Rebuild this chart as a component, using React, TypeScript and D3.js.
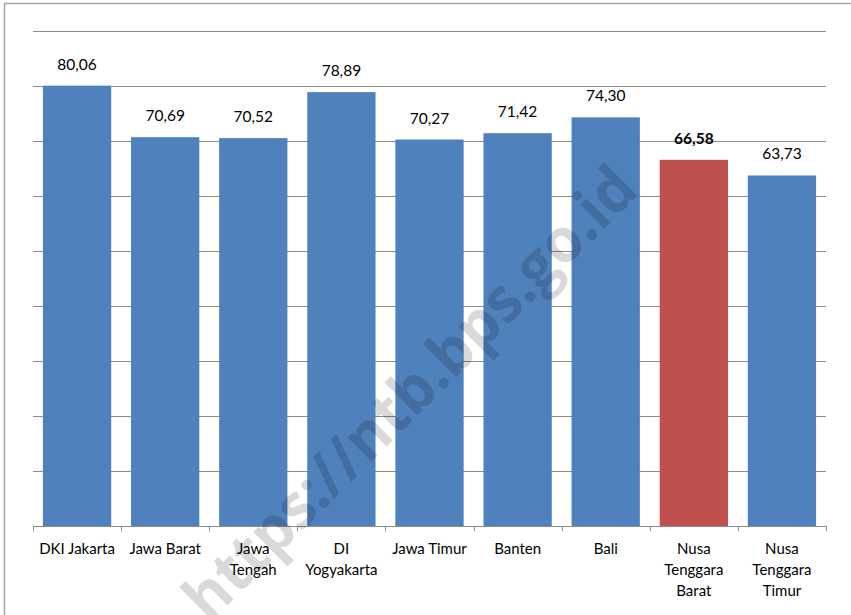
import React from "react";
import * as d3 from "d3";

const categories = [
  "DKI Jakarta",
  "Jawa Barat",
  "Jawa Tengah",
  "DI Yogyakarta",
  "Jawa Timur",
  "Banten",
  "Bali",
  "Nusa Tenggara Barat",
  "Nusa Tenggara Timur",
];
const categoryLabelLines = [
  ["DKI Jakarta"],
  ["Jawa Barat"],
  ["Jawa", "Tengah"],
  ["DI", "Yogyakarta"],
  ["Jawa Timur"],
  ["Banten"],
  ["Bali"],
  ["Nusa", "Tenggara", "Barat"],
  ["Nusa", "Tenggara", "Timur"],
];
const values = [80.06, 70.69, 70.52, 78.89, 70.27, 71.42, 74.3, 66.58, 63.73];
const highlighted = "Nusa Tenggara Barat";
const yTicks = [0, 10, 20, 30, 40, 50, 60, 70, 80, 90];
const watermark = "https://ntb.bps.go.id";

const W = 851;
const H = 615;
const plot = { left: 33, right: 826, top: 31, bottom: 526 };
const FONT = "Lato, 'Open Sans', sans-serif";

export default function App() {
  const x = d3
    .scaleBand<string>()
    .domain(categories)
    .range([plot.left, plot.right])
    .paddingInner(0.225)
    .paddingOuter(0.1125);
  const y = d3.scaleLinear().domain([0, 90]).range([plot.bottom, plot.top]);
  const step = x.step();
  const fmt = (v: number) => d3.format(".2f")(v).replace(".", ",");

  return (
    <svg
      width={W}
      height={H}
      style={{ position: "absolute", left: 0, top: 0, background: "#fff" }}
      fontFamily={FONT}
    >
      <rect x={4.5} y={3.5} width={1000} height={1000} fill="#fff" stroke="#a6a6a6" strokeWidth={1.5} />
      {yTicks
        .filter((t) => t > 0)
        .map((t) => (
          <line
            key={t}
            x1={plot.left}
            x2={plot.right}
            y1={Math.round(y(t)) + 0.5}
            y2={Math.round(y(t)) + 0.5}
            stroke="#8c8c8c"
            strokeWidth={1}
          />
        ))}
      {categories.map((c, i) => (
        <rect
          key={c}
          x={x(c)}
          y={y(values[i])}
          width={x.bandwidth()}
          height={y(0) - y(values[i])}
          fill={c === highlighted ? "#c0504d" : "#4f81bd"}
        />
      ))}
      <line x1={plot.left} x2={plot.right} y1={plot.bottom + 0.5} y2={plot.bottom + 0.5} stroke="#8c8c8c" strokeWidth={1} />
      {d3.range(categories.length + 1).map((i) => {
        const tx = Math.round(plot.left + i * step) + 0.5;
        return <line key={i} x1={tx} x2={tx} y1={plot.bottom} y2={plot.bottom + 5} stroke="#8c8c8c" />;
      })}
      {categories.map((c, i) => (
        <text
          key={c}
          x={(x(c) as number) + x.bandwidth() / 2}
          y={y(values[i]) - 16}
          textAnchor="middle"
          fontSize={15.5}
          fontWeight={c === highlighted ? 700 : 400}
          fill="#000"
        >
          {fmt(values[i])}
        </text>
      ))}
      {categories.map((c, i) => (
        <text
          key={c}
          x={(x(c) as number) + x.bandwidth() / 2}
          y={554}
          textAnchor="middle"
          fontSize={15}
          fill="#000"
        >
          {categoryLabelLines[i].map((l, j) => (
            <tspan key={j} x={(x(c) as number) + x.bandwidth() / 2} dy={j === 0 ? 0 : 21}>
              {l}
            </tspan>
          ))}
        </text>
      ))}
      <text
        transform="translate(425,408) rotate(-45)"
        textAnchor="middle"
        fontSize={62}
        fontWeight={700}
        fontFamily="'Open Sans', sans-serif"
        fill="#000"
        fillOpacity={0.15}
        textLength={610}
        lengthAdjust="spacingAndGlyphs"
      >
        {watermark}
      </text>
    </svg>
  );
}
